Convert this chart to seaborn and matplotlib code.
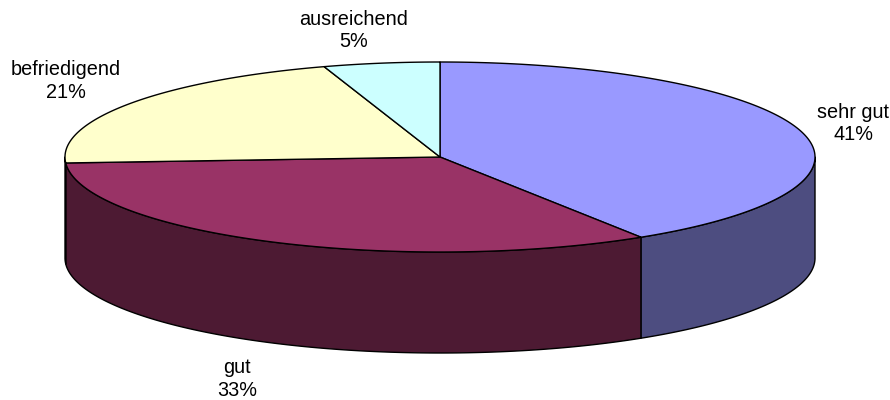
import numpy as np
import matplotlib
matplotlib.use('Agg')
import matplotlib.pyplot as plt
from matplotlib.patches import Polygon
import seaborn as sns

# Data
categories = ['sehr gut', 'gut', 'befriedigend', 'ausreichend']
shares = [41, 33, 21, 5]
top_colors = ['#9999FF', '#993366', '#FFFFCC', '#CCFFFF']
side_colors = ['#4D4D80', '#4D1A33', '#808066', '#668080']

sns.set_theme(style='white')
plt.rcParams['font.family'] = ['Liberation Sans', 'DejaVu Sans']

# Geometry of the tilted pie (pixel space)
cx, cy = 440, 157
rx, ry = 375, 95
depth = 101


def ell(theta):
    # theta in degrees, clockwise from 12 o'clock
    t = np.radians(theta)
    return cx + rx * np.sin(t), cy - ry * np.cos(t)


fig = plt.figure(figsize=(8.9, 4), dpi=100)
ax = fig.add_axes([0, 0, 1, 1])
ax.set_xlim(0, 890)
ax.set_ylim(400, 0)
ax.axis('off')

vals = np.array(shares, dtype=float)
bounds = np.concatenate([[0], np.cumsum(vals) / vals.sum() * 360])

# side walls (front half only, 90..270 deg)
for i in range(len(vals)):
    a0, a1 = max(bounds[i], 90), min(bounds[i + 1], 270)
    if a1 <= a0:
        continue
    th = np.linspace(a0, a1, 200)
    xs, ys = ell(th)
    pts = np.concatenate([np.column_stack([xs, ys]),
                          np.column_stack([xs[::-1], ys[::-1] + depth])])
    ax.add_patch(Polygon(pts, closed=True, facecolor=side_colors[i],
                         edgecolor='black', linewidth=1.0, joinstyle='round'))

# top faces
for i in range(len(vals)):
    th = np.linspace(bounds[i], bounds[i + 1], 300)
    xs, ys = ell(th)
    pts = np.vstack([[cx, cy], np.column_stack([xs, ys])])
    ax.add_patch(Polygon(pts, closed=True, facecolor=top_colors[i],
                         edgecolor='black', linewidth=1.0, joinstyle='round'))

# labels around the pie
nudges = [(10, 4), (-12, 1), (-27, 0), (-21, 7)]
pct = np.round(vals / vals.sum() * 100).astype(int)
for i, name in enumerate(categories):
    mid = (bounds[i] + bounds[i + 1]) / 2
    t = np.radians(mid)
    lx = cx + 420 * np.sin(t)
    ly = cy - 135 * np.cos(t)
    if np.cos(t) < 0:
        ly += depth
    ax.text(lx + nudges[i][0], ly + nudges[i][1], f'{name}\n{pct[i]}%',
            ha='center', va='center', fontsize=14.3, linespacing=1.24,
            color='black')

fig.savefig('out.png', dpi=100)
